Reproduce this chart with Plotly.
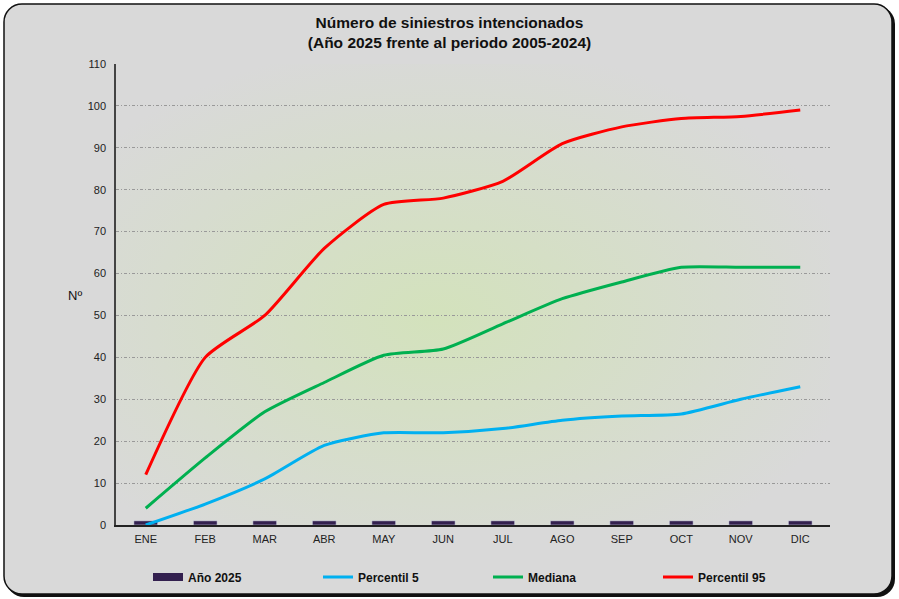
import base64
import plotly.graph_objects as go

meses = ["ENE", "FEB", "MAR", "ABR", "MAY", "JUN", "JUL", "AGO", "SEP", "OCT", "NOV", "DIC"]
anio_2025 = [1, 1, 1, 1, 1, 1, 1, 1, 1, 1, 1, 1]
percentil_5 = [0, 5, 11, 19, 22, 22, 23, 25, 26, 26.5, 30, 33]
mediana = [4, 16, 27, 34, 40.5, 42, 48, 54, 58, 61.5, 61.5, 61.5]
percentil_95 = [12, 40, 50, 66, 76.5, 78, 82, 91, 95, 97, 97.5, 99]

W, H = 899, 599
L, R, T, B = 116, 69, 64, 74
pw, ph = W - L - R, H - T - B
PURPLE = "#33204f"

# background: rounded frame + radial green gradient behind the plot area
svg = f"""<svg xmlns='http://www.w3.org/2000/svg' width='{W}' height='{H}' viewBox='0 0 {W} {H}' preserveAspectRatio='none'>
<defs><radialGradient id='g' cx='0.45' cy='0.55' r='0.6'>
<stop offset='0' stop-color='#d3e2bc'/><stop offset='1' stop-color='#d9d9d9'/></radialGradient></defs>
<rect x='6' y='6' width='889' height='591' rx='18' fill='#111'/>
<rect x='4' y='4' width='888' height='590' rx='18' fill='#d9d9d9' stroke='#111' stroke-width='1.5'/>
<rect x='{L}' y='{T}' width='{pw}' height='{ph}' fill='url(#g)'/>
</svg>"""
src = "data:image/svg+xml;base64," + base64.b64encode(svg.encode()).decode()

font = "Liberation Sans, Arial, sans-serif"

fig = go.Figure()
fig.add_trace(go.Bar(x=meses, y=anio_2025, name="<b>Año 2025</b>", marker_color=PURPLE, width=0.4,
                     showlegend=False, legendgroup="a"))
# legend entry for the bars drawn as a thick flat swatch, like the original
fig.add_trace(go.Scatter(x=[None], y=[None], name="<b>Año 2025</b>", mode="lines",
                         line=dict(color=PURPLE, width=8), legendgroup="a"))
fig.add_trace(go.Scatter(x=meses, y=percentil_5, name="<b>Percentil 5</b>", mode="lines",
                         line=dict(color="#00b0f0", width=3, shape="spline", smoothing=0.6)))
fig.add_trace(go.Scatter(x=meses, y=mediana, name="<b>Mediana</b>", mode="lines",
                         line=dict(color="#00b050", width=3, shape="spline", smoothing=0.6)))
fig.add_trace(go.Scatter(x=meses, y=percentil_95, name="<b>Percentil 95</b>", mode="lines",
                         line=dict(color="#ff0000", width=3, shape="spline", smoothing=0.6)))

fig.add_layout_image(dict(source=src, xref="paper", yref="paper",
                          x=-L / pw, y=1 + T / ph, sizex=W / pw, sizey=H / ph,
                          sizing="stretch", layer="below", xanchor="left", yanchor="top"))

fig.update_layout(
    width=W, height=H,
    margin=dict(l=L, r=R, t=T, b=B, autoexpand=False),
    paper_bgcolor="white", plot_bgcolor="rgba(0,0,0,0)",
    font=dict(family=font, size=11, color="#222"),
    title=dict(text="<b>Número de siniestros intencionados<br>(Año 2025 frente al periodo 2005-2024)</b>",
               x=0.5, xref="container", xanchor="center", y=(H - 28) / H, yref="container",
               yanchor="middle", font=dict(size=15.5, color="#111")),
    showlegend=True,
    legend=dict(orientation="h", x=(148 - L) / pw, xanchor="left", y=-(577 - 525) / ph, yanchor="middle",
                entrywidth=125, bgcolor="rgba(0,0,0,0)", traceorder="normal",
                font=dict(size=12, color="#111", family=font), itemwidth=30),
    xaxis=dict(showline=True, linecolor="#222", linewidth=1.5, ticks="", showgrid=False,
               tickfont=dict(size=11), ticklabelstandoff=3),
    yaxis=dict(range=[0, 110], dtick=10, showline=True, linecolor="#444", linewidth=1.5,
               showgrid=True, gridcolor="#999", griddash="3px,2px,1px,2px", gridwidth=1,
               zeroline=False, ticks="", tickfont=dict(size=11), ticklabelstandoff=6),
    annotations=[dict(text="Nº", xref="paper", yref="paper", x=(75 - L) / pw, y=(525 - 295) / ph,
                      xanchor="center", showarrow=False, font=dict(size=13, color="#111"))],
)

fig.write_html("out.html", config={"displayModeBar": False},
               post_script="document.body.style.margin='0';")
